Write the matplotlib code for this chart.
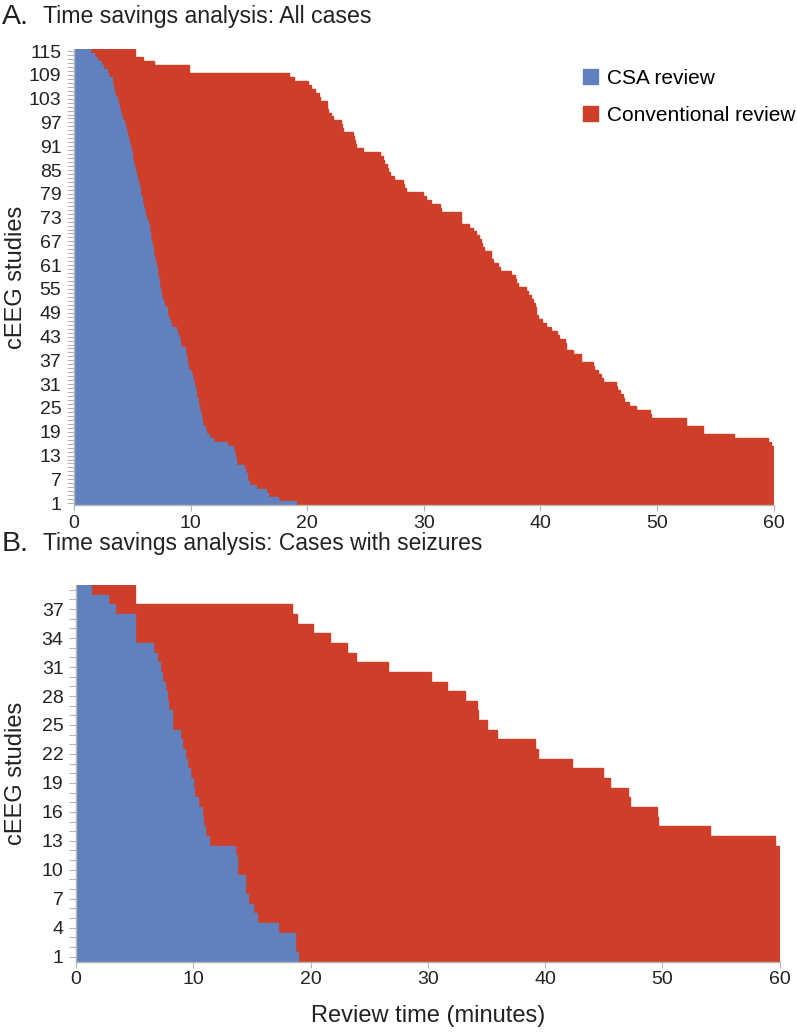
import matplotlib
matplotlib.use("Agg")
import matplotlib.pyplot as plt
import numpy as np

plt.rcParams["font.family"] = ["Liberation Sans", "DejaVu Sans"]

# Panel A: all cases (study 1 .. 115), minutes
csa_all = [
    19.0, 17.5, 16.6, 16.5, 15.6, 15.0, 14.8, 14.8, 14.7, 14.6,
    13.9, 13.9, 13.8, 13.7, 13.6, 13.1, 11.9, 11.6, 11.3, 11.2,
    11.0, 10.95, 10.9, 10.8, 10.7, 10.65, 10.6, 10.5, 10.45, 10.4,
    10.3, 10.2, 10.1, 10.05, 9.8, 9.65, 9.65, 9.6, 9.55, 9.5,
    9.1, 9.05, 9.0, 8.8, 8.75, 8.3, 8.2, 8.1, 8.0, 7.95,
    7.7, 7.6, 7.5, 7.45, 7.4, 7.3, 7.25, 7.2, 7.15, 7.1,
    7.0, 6.95, 6.9, 6.8, 6.75, 6.7, 6.6, 6.55, 6.5, 6.45,
    6.4, 6.35, 6.2, 6.1, 6.0, 5.95, 5.85, 5.8, 5.7, 5.65,
    5.55, 5.5, 5.4, 5.35, 5.25, 5.15, 5.1, 5.0, 4.95, 4.9,
    4.8, 4.7, 4.6, 4.55, 4.45, 4.35, 4.25, 4.15, 4.05, 3.95,
    3.85, 3.75, 3.65, 3.55, 3.4, 3.35, 3.3, 3.25, 2.95, 2.8,
    2.5, 2.3, 2.0, 1.7, 1.4,
]
conv_all = [
    60, 60, 60, 60, 60, 60, 60, 60, 60, 60,
    60, 60, 60, 60, 59.9, 59.8, 59.5, 56.6, 53.9, 53.9,
    52.5, 52.5, 49.5, 49.4, 48.2, 47.6, 47.2, 47.1, 46.8, 46.6,
    46.5, 45.4, 45.2, 44.9, 44.6, 44.5, 43.5, 43.5, 42.8, 42.2,
    42.2, 42.1, 41.6, 41.4, 40.9, 40.5, 40.1, 39.8, 39.6, 39.6,
    39.5, 39.4, 39.2, 38.9, 38.8, 38.1, 37.9, 37.8, 37.5, 36.5,
    36.4, 35.9, 35.8, 35.8, 35.2, 35.0, 34.9, 34.7, 34.5, 34.2,
    33.9, 33.2, 33.2, 33.2, 31.5, 31.4, 30.6, 30.2, 29.9, 28.5,
    28.3, 28.2, 27.4, 27.1, 26.9, 26.8, 26.6, 26.5, 26.2, 24.8,
    24.2, 24.1, 24.0, 23.9, 23.1, 23.0, 22.9, 22.2, 22.0, 21.8,
    21.7, 21.7, 21.1, 21.0, 20.7, 20.3, 20.1, 18.9, 18.4, 9.9,
    9.9, 6.9, 5.9, 5.2, 5.2,
]

# Panel B: cases with seizures (study 1 .. 39)
csa_seiz = [
    18.95, 18.7, 18.7, 17.25, 15.4, 15.1, 14.7, 14.4, 14.4, 13.7,
    13.7, 13.55, 11.3, 11.0, 10.85, 10.7, 10.4, 10.1, 10.0, 9.7,
    9.44, 9.3, 9.0, 8.87, 8.16, 8.16, 7.87, 7.73, 7.59, 7.3,
    7.16, 6.9, 6.6, 5.03, 5.03, 5.03, 3.33, 2.76, 1.25,
]
conv_seiz = [
    60, 60, 60, 60, 60, 60, 60, 60, 60, 60,
    60, 59.95, 59.6, 54.05, 49.6, 49.5, 47.2, 47.1, 45.5, 44.9,
    42.3, 39.4, 39.1, 35.9, 35.0, 34.3, 34.2, 33.2, 31.6, 30.3,
    26.6, 23.9, 23.1, 21.65, 20.2, 18.8, 18.4, 5.03, 5.03,
]

BLUE = "#6181be"
RED = "#cf3e29"
GREY = "#b5b5b5"
TXT = "#222222"


def draw_panel(ax, csa, conv, tick_step):
    n = len(csa)
    studies = np.arange(1, n + 1)
    ax.barh(studies, conv, height=1.0, color=RED, edgecolor=RED, linewidth=1.0,
            label="Conventional review")
    ax.barh(studies, csa, height=1.0, color=BLUE, edgecolor=BLUE, linewidth=1.0,
            label="CSA review")
    ax.set_xlim(0, 60)
    ax.set_ylim(0.5, n + 0.5)
    ax.set_xticks(range(0, 61, 10))
    ax.set_yticks(range(1, n + 1, tick_step))
    ax.set_yticks(studies, minor=True)
    for side in ("top", "right"):
        ax.spines[side].set_visible(False)
    for side in ("left", "bottom"):
        ax.spines[side].set_color(GREY)
        ax.spines[side].set_linewidth(1.0)
    ax.tick_params(axis="both", which="both", colors=GREY, labelcolor=TXT,
                   labelsize=14)
    ax.tick_params(axis="y", which="both", length=5, width=0.8, pad=4)
    ax.tick_params(axis="x", length=4, width=0.8, pad=3)
    ax.set_ylabel("cEEG studies", fontsize=17, color=TXT)


fig = plt.figure(figsize=(7.97, 10.33), dpi=100)
ax_a = fig.add_axes([0.0928, 0.511, 0.878, 0.4415])
ax_b = fig.add_axes([0.0954, 0.0692, 0.883, 0.3645])

draw_panel(ax_a, csa_all, conv_all, 6)
draw_panel(ax_b, csa_seiz, conv_seiz, 3)
ax_a.yaxis.set_label_coords(-0.067, 0.5)
ax_b.yaxis.set_label_coords(-0.0696, 0.5)

ax_b.set_xlabel("Review time (minutes)", fontsize=17, color=TXT)
ax_b.xaxis.set_label_coords(0.5, -0.115)

fig.text(0.002, 0.984, "A.", fontsize=20.5, color=TXT, va="center")
fig.text(0.054, 0.984, "Time savings analysis: All cases", fontsize=16.7,
         color=TXT, va="center")
fig.text(0.002, 0.4735, "B.", fontsize=20.5, color=TXT, va="center")
fig.text(0.054, 0.4735, "Time savings analysis: Cases with seizures", fontsize=16.5,
         color=TXT, va="center")

handles, labels = ax_a.get_legend_handles_labels()
ax_a.legend(handles[::-1], labels[::-1], loc="upper left", bbox_to_anchor=(0.727, 0.957),
            frameon=False, fontsize=15, borderpad=0, handlelength=0.72,
            handleheight=0.72, labelspacing=0.88, handletextpad=0.43,
            borderaxespad=0)

fig.savefig("out.png", dpi=100)
